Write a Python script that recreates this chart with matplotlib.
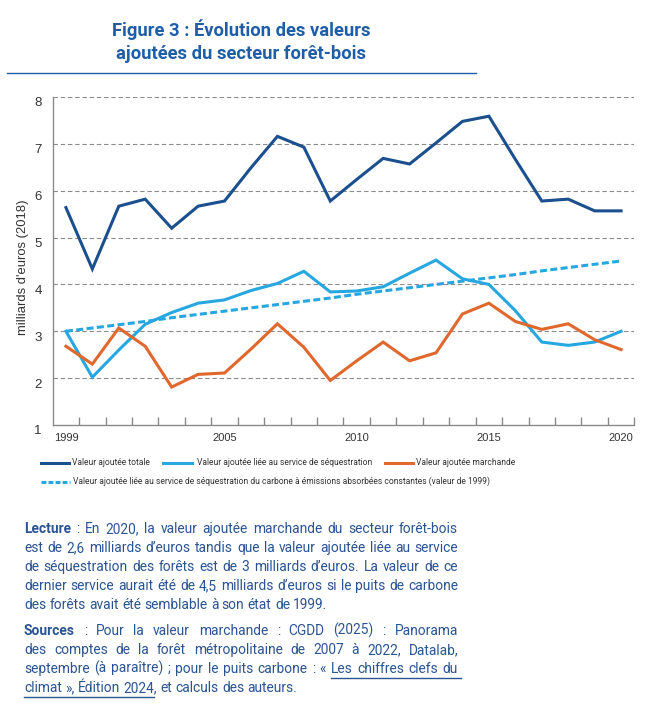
import matplotlib
matplotlib.use("Agg")
import matplotlib.pyplot as plt
from matplotlib.lines import Line2D
from matplotlib.transforms import ScaledTranslation
import numpy as np

# ---------------- data ----------------
years = list(range(1999, 2021))
va_totale = [5.64, 4.33, 5.67, 5.82, 5.20, 5.67, 5.78, 6.49, 7.16, 6.93, 5.78,
             6.24, 6.69, 6.57, 7.02, 7.48, 7.59, 6.67, 5.78, 5.82, 5.57, 5.57]
va_sequestration = [3.00, 2.02, 2.60, 3.15, 3.40, 3.60, 3.67, 3.87, 4.02, 4.28, 3.84,
                    3.86, 3.95, 4.24, 4.52, 4.12, 4.00, 3.44, 2.77, 2.70, 2.77, 3.00]
va_marchande = [2.68, 2.30, 3.07, 2.68, 1.81, 2.08, 2.11, 2.62, 3.16, 2.66, 1.95,
                2.37, 2.77, 2.37, 2.54, 3.37, 3.60, 3.21, 3.04, 3.16, 2.82, 2.61]
va_seq_constante = [3.00, 3.07, 3.14, 3.21, 3.29, 3.36, 3.43, 3.50, 3.57, 3.64, 3.71,
                    3.79, 3.86, 3.93, 4.00, 4.07, 4.14, 4.21, 4.29, 4.36, 4.43, 4.50]
xtick_years = [1999, 2005, 2010, 2015, 2020]
ytick_values = [1, 2, 3, 4, 5, 6, 7, 8]

series_labels = ["Valeur ajoutée totale",
                 "Valeur ajoutée liée au service de séquestration",
                 "Valeur ajoutée marchande",
                 "Valeur ajoutée liée au service de séquestration du carbone à émissions absorbées constantes (valeur de 1999)"]

title_lines = ["Figure 3 : Évolution des valeurs", "ajoutées du secteur forêt-bois"]
ylabel_text = "milliards d'euros (2018)"

# ---------------- style ----------------
W, H = 648, 707
C_DARK = "#1b4f8e"
C_LIGHT = "#27a7e0"
C_ORANGE = "#e0682d"
C_TITLE = "#1f5ea6"
C_TEXT = "#2a5492"
NARROW = ["Roboto", "DejaVu Sans"]
SANS = ["Liberation Sans", "DejaVu Sans"]

fig = plt.figure(figsize=(W / 100, H / 100), dpi=100)
fig.patch.set_facecolor("white")
renderer = fig.canvas.get_renderer()


def fx(x):
    return x / W


def fy(y):
    return 1 - y / H


def measure(text, size, weight="normal", family=NARROW):
    t = fig.text(0, 0, text, fontsize=size, fontweight=weight, family=family)
    w = t.get_window_extent(renderer).width
    t.remove()
    return w


def fit(text, target, weight="normal", family=NARROW, base=10.0):
    return base * target / measure(text, base, weight, family)


# title
ts = fit(title_lines[0], 259, "bold")
fig.text(fx(241.5), fy(35.7), title_lines[0], ha="center", va="baseline",
         fontsize=ts, fontweight="bold", color=C_TITLE, family=NARROW)
fig.text(fx(241.5), fy(59.3), title_lines[1], ha="center", va="baseline",
         fontsize=ts, fontweight="bold", color=C_TITLE, family=NARROW)
fig.add_artist(Line2D([fx(7), fx(476)], [fy(72.7), fy(72.7)], color=C_TITLE,
                      lw=1.0, transform=fig.transFigure))

# axes
ax = fig.add_axes([fx(52.7), fy(425), (634.3 - 52.7) / W, (425 - 97) / H])
ax.set_xlim(1998.5, 2020.5)
ax.set_ylim(1, 8)

ax.plot(years, va_totale, color=C_DARK, lw=2.2, solid_joinstyle="miter", zorder=3)
ax.plot(years, va_sequestration, color=C_LIGHT, lw=2.2, solid_joinstyle="miter", zorder=3)
ax.plot(years, va_seq_constante, color=C_LIGHT, lw=2.2, linestyle=(0, (2.3, 1.1)), zorder=3)
ax.plot(years, va_marchande, color=C_ORANGE, lw=2.2, solid_joinstyle="miter", zorder=4)

for v in ytick_values[1:]:
    ax.axhline(v, color="#8c8c8c", lw=0.8, linestyle=(0, (4, 2.5)), zorder=1)

for s in ["top", "right"]:
    ax.spines[s].set_visible(False)
for s in ["left", "bottom"]:
    ax.spines[s].set_color("#8a8a8a")
    ax.spines[s].set_linewidth(1.0)

ax.set_yticks(ytick_values)
ax.set_yticklabels([str(v) for v in ytick_values], family=SANS, fontsize=9.5, color="#333333")
ax.tick_params(axis="y", length=0, pad=8)
for lab in ax.get_yticklabels():
    lab.set_transform(lab.get_transform() + ScaledTranslation(0, -0.05, fig.dpi_scale_trans))

ax.set_xticks(xtick_years)
ax.set_xticklabels([str(y) for y in xtick_years], family=SANS, fontsize=8, color="#333333")
ax.set_xticks(np.arange(1999.5, 2021, 1.0), minor=True)
ax.tick_params(axis="x", which="major", length=0, pad=6)
ax.tick_params(axis="x", which="minor", length=6, direction="in", color="#8a8a8a", width=1.0)

ys = fit(ylabel_text, 135, family=SANS)
fig.text(fx(22.7), fy(267), ylabel_text, rotation=90, ha="center", va="center",
         family=SANS, fontsize=ys, color="#333333")

# legend (manual)
ls_ = fit(series_labels[3], 419)
leg_entries = [
    (40.7, 69, 71.7, 462.7, C_DARK, "-", series_labels[0]),
    (163, 192, 196.7, 462.7, C_LIGHT, "-", series_labels[1]),
    (385, 413, 416, 462.7, C_ORANGE, "-", series_labels[2]),
    (40.7, 70, 73, 481.7, C_LIGHT, (0, (1.6, 0.7)), series_labels[3]),
]
for x0, x1, xt, yc, col, ls, lab in leg_entries:
    fig.add_artist(Line2D([fx(x0), fx(x1)], [fy(yc), fy(yc)], color=col, lw=2.2,
                          linestyle=ls, transform=fig.transFigure))
    fig.text(fx(xt), fy(yc), lab, ha="left", va="center", fontsize=ls_,
             color="#333333", family=NARROW)

# ---------------- paragraph text (justified) ----------------
TX0, TX1 = 24, 458

lecture = [
    ("Lecture : En 2020, la valeur ajoutée marchande du secteur forêt-bois", True, True),
    ("est de 2,6 milliards d’euros tandis que la valeur ajoutée liée au service", False, True),
    ("de séquestration des forêts est de 3 milliards d’euros. La valeur de ce", False, True),
    ("dernier service aurait été de 4,5 milliards d’euros si le puits de carbone", False, True),
    ("des forêts avait été semblable à son état de 1999.", False, False),
]
sources = [
    ("Sources : Pour la valeur marchande : CGDD (2025) : Panorama", True, True),
    ("des comptes de la forêt métropolitaine de 2007 à 2022, Datalab,", False, True),
    ("septembre (à paraître) ; pour le puits carbone : « Les chiffres clefs du", False, True),
    ("climat », Édition 2024, et calculs des auteurs.", False, False),
]
baselines_l = [533, 552, 571, 590, 609]
baselines_s = [635, 654, 673, 692]

FS = min(fit(s, TX1 - TX0 - 4) for s, b, j in lecture + sources if j)


def draw_line(tokens, y, justify=True):
    texts = []
    for word, wt in tokens:
        t = fig.text(0, 0, word, fontsize=FS, fontweight=wt, color=C_TEXT,
                     family=NARROW, ha="left", va="baseline")
        texts.append(t)
    widths = [t.get_window_extent(renderer).width for t in texts]
    if justify and len(texts) > 1:
        gap = (TX1 - TX0 - sum(widths)) / (len(texts) - 1)
    else:
        gap = measure("a a", FS) - measure("aa", FS)
    x = TX0
    xs = []
    for t, w in zip(texts, widths):
        t.set_position((fx(x), fy(y)))
        xs.append((x, w))
        x += w + gap
    return xs


def toks(s, bold_first=False):
    words = s.split()
    return [(w, "bold" if (bold_first and i == 0) else "normal") for i, w in enumerate(words)]


for (s, b, j), y in zip(lecture, baselines_l):
    draw_line(toks(s, b), y, j)

pos_s = []
for (s, b, j), y in zip(sources, baselines_s):
    pos_s.append(draw_line(toks(s, b), y, j))

# underlines for the linked reference
xs3 = pos_s[2]
words3 = sources[2][0].split()
i_les = words3.index("Les")
u3_start = xs3[i_les][0]
u3_end = xs3[-1][0] + xs3[-1][1]
fig.add_artist(Line2D([fx(u3_start), fx(u3_end + 3)], [fy(677.7), fy(677.7)],
                      color=C_TEXT, lw=1.0, transform=fig.transFigure))
xs4 = pos_s[3]
words4 = sources[3][0].split()
i_2024 = words4.index("2024,")
w2024 = measure("2024", FS)
fig.add_artist(Line2D([fx(xs4[0][0]), fx(xs4[i_2024][0] + w2024)], [fy(696.7), fy(696.7)],
                      color=C_TEXT, lw=1.0, transform=fig.transFigure))

fig.savefig("out.png", dpi=100, facecolor="white")
